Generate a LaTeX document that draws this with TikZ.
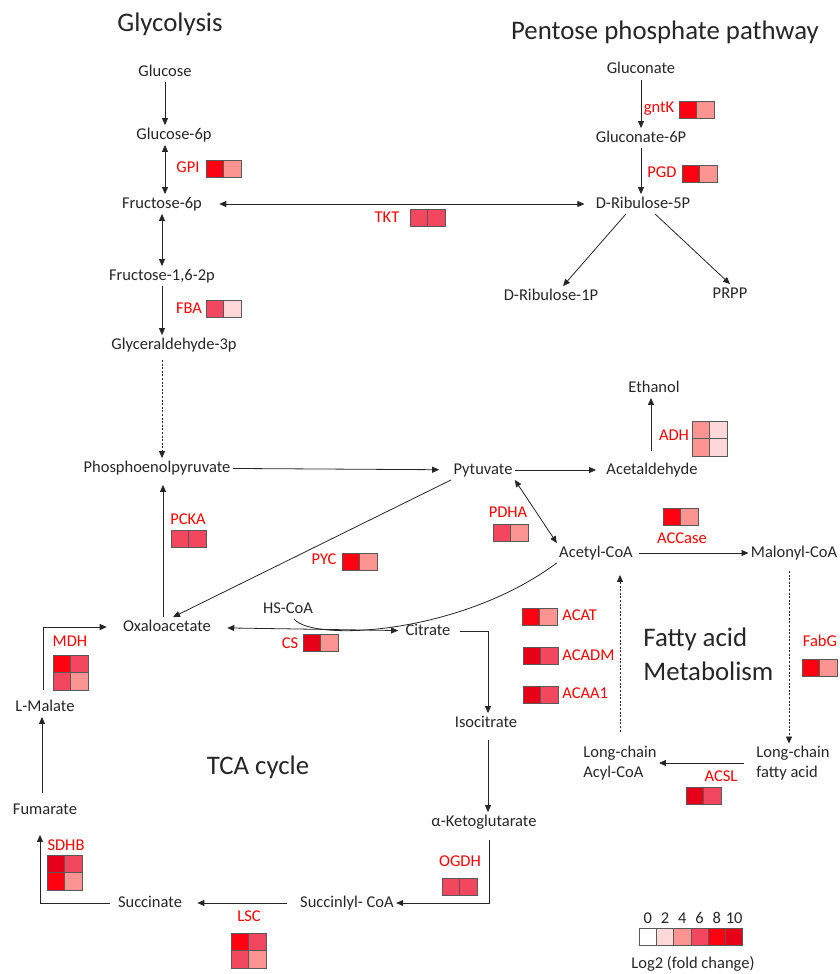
\documentclass[tikz,border=0pt]{standalone}
\usepackage{fontspec}
\setmainfont{Carlito}
\usepackage{tikz}
\usetikzlibrary{arrows.meta}

\definecolor{fc0}{RGB}{255,255,255}
\definecolor{fc2}{RGB}{255,217,217}
\definecolor{fc4}{RGB}{252,148,145}
\definecolor{fc6}{RGB}{243,70,95}
\definecolor{fc8}{RGB}{255,0,16}
\definecolor{fc10}{RGB}{230,0,24}
\definecolor{enzred}{RGB}{255,0,0}

\tikzset{
  metab/.style={font=\fontsize{16.5}{20}\selectfont, inner sep=2pt, text height=11.5pt, text depth=3.5pt},
  metab2/.style={font=\fontsize{16.5}{20}\selectfont, inner sep=2pt, align=left},
  enzyme/.style={metab, text=enzred},
  pathtitle/.style={font=\fontsize{26.8}{34}\selectfont, inner sep=0pt},
  cellbox/.style={draw=black!65, line width=0.8pt},
  dotline/.style={dash pattern=on 2pt off 1.6pt},
}

% two / four coloured fold-change cells, top-left corner at (#1,#2)
\newcommand{\twocells}[4]{%
  \draw[cellbox,fill=#3] (#1,#2) rectangle ++(17.5,17.5);
  \draw[cellbox,fill=#4] (#1+17.5,#2) rectangle ++(17.5,17.5);}
\newcommand{\fourcells}[6]{%
  \twocells{#1}{#2}{#3}{#4}\twocells{#1}{#2+17.5}{#5}{#6}}

\begin{document}
\begin{tikzpicture}[x=1pt,y=-1pt,line width=0.8pt,color=black!85,>={Triangle[length=7pt,width=6pt]}]
\useasboundingbox (0,0) rectangle (839,974);

% Glycolysis
\node[pathtitle,anchor=base] (glyco) at (170,32) {Glycolysis};
\node[metab] (glc) at (165,72) {Glucose};
\node[metab] (g6p) at (174,135) {Glucose-6p};
\node[metab] (f6p) at (162,204) {Fructose-6p};
\node[metab] (f16bp) at (162,276) {Fructose-1,6-2p};
\node[metab] (gap) at (174,345) {Glyceraldehyde-3p};
\node[metab] (pep) at (157,468) {Phosphoenolpyruvate};
\draw[->] (glc) -- (glc |- g6p.north);
\draw[<->] (g6p.south -| glc) -- (f6p.north -| glc);
\draw[<->] (f6p) -- (f16bp);
\draw[->] (f16bp) -- (f16bp |- gap.north);
\draw[->,dotline,shorten <=5pt] (gap.south -| f16bp) -- (pep.north -| f16bp);
\node[enzyme] (gpi) at (188,168) {GPI};
\twocells{206}{160}{fc8}{fc4}
\node[enzyme] (fba) at (189,309) {FBA};
\twocells{206}{300}{fc6}{fc2}

% Pentose phosphate pathway
\node[pathtitle,anchor=base] (ppp) at (665,40) {Pentose phosphate pathway};
\node[metab] (glcn) at (641,70) {Gluconate};
\node[metab] (glcn6p) at (641,138) {Gluconate-6P};
\node[metab] (ru5p) at (643,204) {D-Ribulose-5P};
\node[metab] (ru1p) at (551,296) {D-Ribulose-1P};
\node[metab] (prpp) at (730,294) {PRPP};
\draw[->] (glcn) -- (glcn |- glcn6p.north);
\draw[->] (glcn6p) -- (glcn6p |- ru5p.north);
\draw[<->,shorten <=15pt,shorten >=9pt] (f6p) -- (ru5p);
\draw[->] ([xshift=-17pt]ru5p.south) -- ([xshift=12pt]ru1p.north);
\draw[->] ([xshift=12pt]ru5p.south) -- (prpp.north);
\node[enzyme] (gntk) at (659,108) {gntK};
\twocells{679}{101}{fc8}{fc4}
\node[enzyme] (pgd) at (662,173) {PGD};
\twocells{682}{165}{fc8}{fc4}
\node[enzyme] (tkt) at (387,218) {TKT};
\twocells{410}{209}{fc6}{fc6}

% Pyruvate branch
\node[metab] (pyr) at (483,470) {Pytuvate};
\node[metab] (acald) at (652,470) {Acetaldehyde};
\node[metab] (etoh) at (654,388) {Ethanol};
\node[metab] (accoa) at (596,553) {Acetyl-CoA};
\node[metab] (malcoa) at (794,553) {Malonyl-CoA};
\draw[->,shorten >=12pt] (pep) -- (pyr);
\draw[->,shorten >=8pt] (pyr) -- (acald);
\draw[->,shorten <=9pt] ([xshift=-1pt]acald.north) -- ([xshift=-1pt]acald.north |- etoh.south);
\draw[<->] (pyr.south east) -- (accoa.north west);
\draw[->,shorten <=4pt] (accoa) -- (malcoa);
\node[enzyme] (adh) at (674,436) {ADH};
\fourcells{692}{421}{fc4}{fc2}{fc4}{fc2}
\node[enzyme] (pdha) at (508,513) {PDHA};
\twocells{493}{524}{fc6}{fc4}
\node[enzyme] (accase) at (682,539) {ACCase};
\twocells{663}{508}{fc8}{fc4}

% Fatty acid metabolism
\node[pathtitle,anchor=west,align=left] (fam) at (643,654) {Fatty acid\\Metabolism};
\node[metab2] (lcfa) at (793,763) {Long-chain\\fatty acid};
\node[metab2] (lcacyl) at (620,763) {Long-chain\\Acyl-CoA};
\draw[->,dotline,shorten <=8pt] ([xshift=-5pt]malcoa.south) -- ([xshift=-5pt]malcoa.south |- lcfa.north);
\draw[->,shorten <=10pt] (lcfa) -- (lcacyl);
\draw[->,dotline,shorten <=12pt,shorten >=12pt] (lcacyl.north) -- (lcacyl.north |- accoa.south);
\node[enzyme,anchor=west] (acat) at (560,616) {ACAT};
\twocells{522}{608}{fc8}{fc4}
\node[enzyme,anchor=west] (acadm) at (560,656) {ACADM};
\twocells{523}{647}{fc10}{fc6}
\node[enzyme,anchor=west] (acaa) at (560,694) {ACAA1};
\twocells{523}{686}{fc10}{fc6}
\node[enzyme] (fabg) at (820,642) {FabG};
\twocells{802}{659}{fc8}{fc4}
\node[enzyme] (acsl) at (721,777) {ACSL};
\twocells{686}{787}{fc10}{fc6}

% TCA cycle
\node[pathtitle,anchor=base] (tca) at (258,774) {TCA cycle};
\node[metab] (oaa) at (167,627) {Oxaloacetate};
\node[metab] (hscoa) at (288,609) {HS-CoA};
\node[metab] (cit) at (428,631) {Citrate};
\node[metab] (icit) at (486,723) {Isocitrate};
\node[metab] (akg) at (484,822) {α-Ketoglutarate};
\node[metab] (succoa) at (347,903) {Succinlyl- CoA};
\node[metab] (succ) at (150,903) {Succinate};
\node[metab] (fum) at (45,810) {Fumarate};
\node[metab] (mal) at (45,707) {L-Malate};
\draw[->] (pyr.south west) -- ([xshift=6pt]oaa.north);
\draw[->,shorten >=7pt] ([xshift=-4pt]oaa.north) -- ([xshift=-4pt]oaa.north |- pep.south);
\draw[<->,shorten <=14pt,shorten >=5pt] (oaa) -- (cit);
\draw ([xshift=6pt]hscoa.south) .. controls (312,642) and (460,635) .. (accoa.south west);
\draw[->,shorten <=7pt] (cit.east) -| ([xshift=2pt]icit.north);
\draw[->,shorten <=7pt] ([xshift=2pt]icit.south) -- ([xshift=2pt]icit.south |- akg.north);
\draw[->,shorten <=8pt] ([xshift=5pt]akg.south) |- (succoa.east);
\draw[->,shorten <=11pt,shorten >=13pt] (succoa) -- (succ);
\draw[->,shorten <=6pt,shorten >=15pt] (succ.west) -| ([xshift=-5pt]fum.south);
\draw[->,shorten <=7pt] ([xshift=-3pt]fum.north) -- ([xshift=-3pt]fum.north |- mal.south);
\draw[->,shorten <=7pt,shorten >=14pt] ([xshift=-2pt]mal.north) |- (oaa.west);
\node[enzyme] (pcka) at (188,520) {PCKA};
\twocells{171}{530}{fc6}{fc6}
\node[enzyme] (pyc) at (324,560) {PYC};
\twocells{342}{553}{fc8}{fc4}
\node[enzyme] (cs) at (290,644) {CS};
\twocells{303}{634}{fc10}{fc4}
\node[enzyme] (mdh) at (70,642) {MDH};
\fourcells{53}{655}{fc8}{fc6}{fc6}{fc4}
\node[enzyme] (ogdh) at (460,862) {OGDH};
\twocells{442}{878}{fc6}{fc6}
\node[enzyme] (lsc) at (249,917) {LSC};
\fourcells{231}{933}{fc8}{fc6}{fc6}{fc4}
\node[enzyme] (sdhb) at (66,846) {SDHB};
\fourcells{47}{855}{fc10}{fc6}{fc8}{fc4}

% Legend
\foreach \v [count=\i from 0] in {0,2,4,6,8,10} {
  \node[metab] (lg\v) at (647.7+17.3*\i,919) {\v};
  \draw[cellbox,fill=fc\v] (639+17.3*\i,928) rectangle ++(17.3,17.5);
}
\node[metab] (lglabel) at (693,964) {Log2 (fold change)};
\end{tikzpicture}
\end{document}
